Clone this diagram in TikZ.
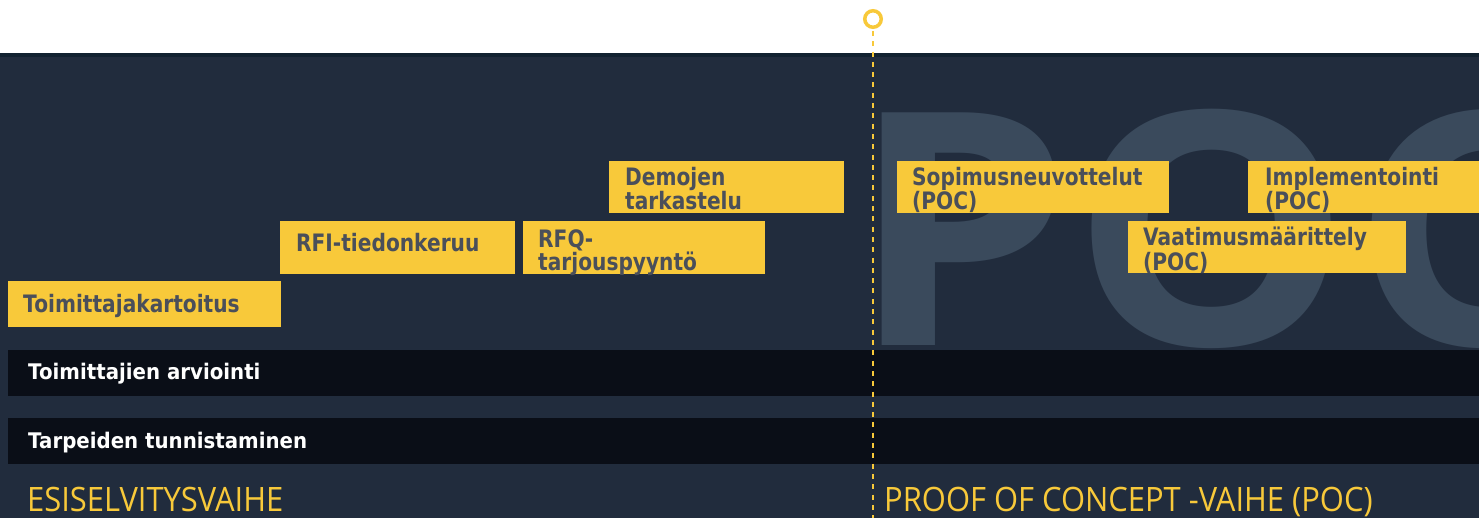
\documentclass[tikz,border=0pt]{standalone}
\usepackage{fontspec}
\newfontfamily\boxfont[FakeStretch=0.84]{DejaVu Sans}
\newfontfamily\barfont[FakeStretch=0.92]{DejaVu Sans}
\newfontfamily\pocfont[FakeStretch=1.08]{Open Sans}
\newfontfamily\phasefont[FakeStretch=0.92]{Open Sans}
\definecolor{bg}{HTML}{212C3D}
\definecolor{strip}{HTML}{122230}
\definecolor{pocgray}{HTML}{3A4A5C}
\definecolor{ylw}{HTML}{F8C93A}
\definecolor{boxtxt}{HTML}{4A4F5A}
\definecolor{barblk}{HTML}{0A0E17}
\tikzset{
  ybox/.style={fill=ylw, draw=none, inner sep=0pt, anchor=north west, outer sep=0pt},
  ytext/.style={inner sep=0pt, anchor=north west, align=left, text=boxtxt,
    font=\boxfont\bfseries\fontsize{24}{20}\selectfont},
  darkbar/.style={fill=barblk, draw=none, inner sep=0pt, anchor=north west, outer sep=0pt},
  bartext/.style={inner sep=0pt, anchor=base west, text=white,
    font=\barfont\bfseries\fontsize{21.5}{22}\selectfont},
  phase/.style={inner sep=0pt, anchor=base west, text=ylw,
    font=\phasefont\fontsize{33.6}{36}\selectfont},
  dashline/.style={draw=ylw, line width=1.8pt, dash pattern=on 5pt off 5.3pt},
}
\newcommand{\fl}{\rule{0pt}{18pt}}
\begin{document}
\begin{tikzpicture}[x=1pt,y=-1pt]
\useasboundingbox (0,0) rectangle (1479,518);
% backgrounds
\fill[white] (0,0) rectangle (1479,53);
\fill[bg] (0,53) rectangle (1479,518);
\fill[strip] (0,53) rectangle (1479,57);
% big POC watermark
\begin{scope}
\clip (0,57) rectangle (1479,518);
\node[inner sep=0pt, anchor=base west, text=pocgray,
  font=\pocfont\bfseries\fontsize{326}{330}\selectfont] (poc) at (850,345) {POC};
\end{scope}
% yellow boxes
\node[ybox, minimum width=273pt, minimum height=46pt] (kart) at (8,281) {};
\node[ytext] (karttx) at (23,294) {\fl Toimittajakartoitus};
\node[ybox, minimum width=235pt, minimum height=53pt] (rfi) at (280,221) {};
\node[ytext] (rfitx) at (296,233) {\fl RFI-tiedonkeruu};
\node[ybox, minimum width=242pt, minimum height=53pt] (rfq) at (523,221) {};
\node[ytext] (rfqtx) at (538,229) {\fl RFQ-\\tarjouspyyntö};
\node[ybox, minimum width=235pt, minimum height=52pt] (demo) at (609,161) {};
\node[ytext] (demotx) at (625,167) {\fl Demojen\\tarkastelu};
\node[ybox, minimum width=272pt, minimum height=52pt] (sopi) at (897,161) {};
\node[ytext] (sopitx) at (912,167) {\fl Sopimusneuvottelut\\(POC)};
\node[ybox, minimum width=240pt, minimum height=52pt] (impl) at (1248,161) {};
\node[ytext] (impltx) at (1265,167) {\fl Implementointi\\(POC)};
\node[ybox, minimum width=278pt, minimum height=52pt] (vaat) at (1128,221) {};
\node[ytext] (vaattx) at (1143,227) {\fl Vaatimusmäärittely\\(POC)};
% dark bars
\node[darkbar, minimum width=1480pt, minimum height=46pt] (arv) at (8,350) {};
\node[bartext] (arvtx) at (28,379) {Toimittajien arviointi};
\node[darkbar, minimum width=1480pt, minimum height=46pt] (tarp) at (8,418) {};
\node[bartext] (tarptx) at (28,448) {Tarpeiden tunnistaminen};
% phase labels
\node[phase] (esi) at (27,511) {ESISELVITYSVAIHE};
\node[phase] (pocph) at (884,511) {PROOF OF CONCEPT -VAIHE (POC)};
% milestone marker and dashed line
\node[circle, draw=ylw, fill=white, line width=3.5pt, minimum size=16.5pt, inner sep=0pt] (mark) at (873,19) {};
\coordinate (lineend) at (873,518);
\draw[dashline] (mark.south) ++(0,2) -- (lineend);
\end{tikzpicture}
\end{document}
